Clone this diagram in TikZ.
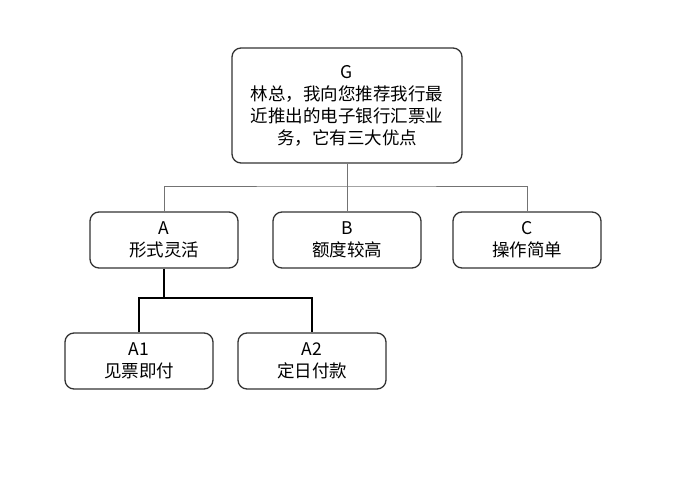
\documentclass[tikz,border=0pt]{standalone}
\usepackage{fontspec}
\setmainfont{Noto Sans CJK SC}
\begin{document}
\begin{tikzpicture}[x=1pt,y=-1pt,
  box/.style={draw=black!80,line width=1.3pt,rounded corners=9pt,font=\fontsize{17.5}{22}\selectfont,align=center,inner sep=0pt},
  thin/.style={draw=black!55,line width=0.7pt},
  thick/.style={draw=black,line width=1.4pt}]
\useasboundingbox (0,0) rectangle (697,493);
\fill[white] (0,0) rectangle (697,493);
\node[box,minimum width=230pt,minimum height=115pt] (G) at (347,105.5) {G\\林总，我向您推荐我行最\\近推出的电子银行汇票业\\务，它有三大优点};
\node[box,minimum width=148pt,minimum height=56pt] (A) at (164,240) {A\\形式灵活};
\node[box,minimum width=148pt,minimum height=56pt] (B) at (347,240) {B\\额度较高};
\node[box,minimum width=148pt,minimum height=56pt] (C) at (527,240) {C\\操作简单};
\node[box,minimum width=148pt,minimum height=56pt] (A1) at (139,361) {A1\\见票即付};
\node[box,minimum width=148pt,minimum height=56pt] (A2) at (312,361) {A2\\定日付款};
\coordinate (j) at (347,186);
\coordinate (k) at (164,298);
\draw[thin] (G.south) -- (j);
\draw[thin] (A.north) |- (j) -| (C.north);
\draw[thin] (j) -- (B.north);
\draw[thick] (A.south) -- (k);
\draw[thick] (A1.north) |- (k) -| (A2.north);
\end{tikzpicture}
\end{document}
